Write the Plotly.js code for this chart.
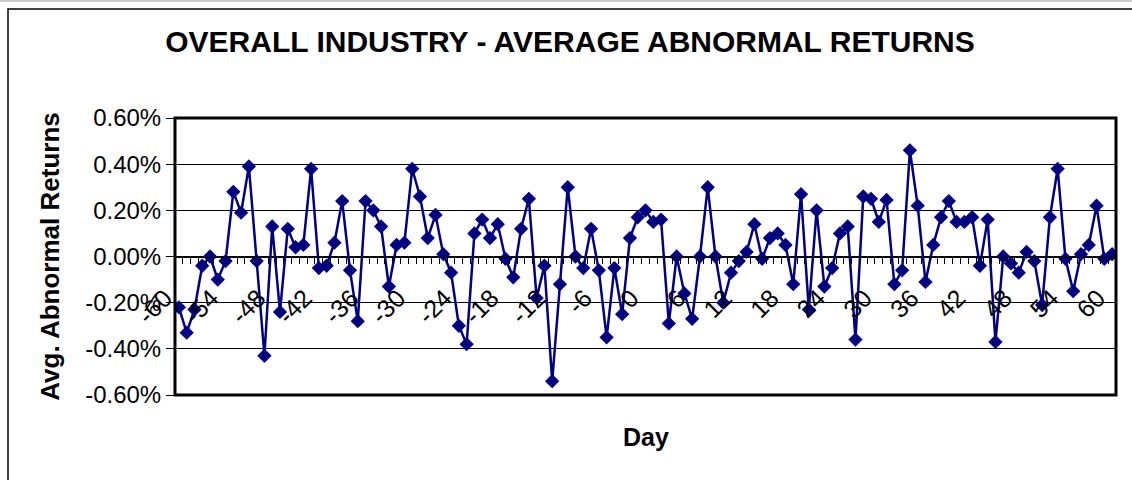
<!DOCTYPE html>
<html><head><meta charset="utf-8">
<script src="https://cdn.plot.ly/plotly-3.0.1.min.js"></script>
<style>html,body{margin:0;padding:0;background:#fff;}#chart{width:1132px;height:480px;}</style>
</head><body><div id="chart"></div>
<script>
const days = [-60,-59,-58,-57,-56,-55,-54,-53,-52,-51,-50,-49,-48,-47,-46,-45,-44,-43,-42,-41,
-40,-39,-38,-37,-36,-35,-34,-33,-32,-31,-30,-29,-28,-27,-26,-25,-24,-23,-22,-21,
-20,-19,-18,-17,-16,-15,-14,-13,-12,-11,-10,-9,-8,-7,-6,-5,-4,-3,-2,-1,
0,1,2,3,4,5,6,7,8,9,10,11,12,13,14,15,16,17,18,19,
20,21,22,23,24,25,26,27,28,29,30,31,32,33,34,35,36,37,38,39,
40,41,42,43,44,45,46,47,48,49,50,51,52,53,54,55,56,57,58,59,60];
// average abnormal returns, in percent
const avgAbnormalReturns = [-0.22,-0.33,-0.23,-0.04,0.00,-0.10,-0.02,0.28,0.19,0.39,
-0.02,-0.43,0.13,-0.24,0.12,0.04,0.05,0.38,-0.05,-0.04,
0.06,0.24,-0.06,-0.28,0.24,0.20,0.13,-0.13,0.05,0.06,
0.38,0.26,0.08,0.18,0.01,-0.07,-0.30,-0.38,0.10,0.16,
0.08,0.14,-0.01,-0.09,0.12,0.25,-0.18,-0.04,-0.54,-0.12,
0.30,0.00,-0.05,0.12,-0.06,-0.35,-0.05,-0.25,0.08,0.17,
0.20,0.15,0.16,-0.29,0.00,-0.16,-0.27,0.00,0.30,0.00,
-0.20,-0.07,-0.02,0.02,0.14,-0.01,0.08,0.10,0.05,-0.12,
0.27,-0.23,0.20,-0.13,-0.05,0.10,0.13,-0.36,0.26,0.25,
0.15,0.245,-0.12,-0.06,0.46,0.22,-0.11,0.05,0.17,0.24,
0.15,0.15,0.17,-0.04,0.16,-0.37,0.00,-0.03,-0.07,0.02,
-0.02,-0.21,0.17,0.38,-0.01,-0.15,0.01,0.05,0.22,-0.01,0.01];
const xTickVals = [-60,-54,-48,-42,-36,-30,-24,-18,-12,-6,0,6,12,18,24,30,36,42,48,54,60];
const xTickText = ['-60','-54','-48','-42','-36','-30','-24','-18','-12','-6','0','6','12','18','24','30','36','42','48','54','60'];
const yTickVals = [-0.6,-0.4,-0.2,0,0.2,0.4,0.6];
const yTickText = ['-0.60%','-0.40%','-0.20%','0.00%','0.20%','0.40%','0.60%'];

const W=1132,H=480, L=175, R=16, T=118, B=85;
const pw=W-L-R, ph=H-T-B;
const px=(x)=> (x-L)/pw, py=(y)=> (H-B-y)/ph;

const trace = {
  x: days, y: avgAbnormalReturns, type:'scatter', mode:'lines+markers',
  line:{color:'#000080', width:2.5},
  marker:{symbol:'diamond', size:11, color:'#000080'},
  hoverinfo:'skip'
};
const layout = {
  width:W, height:H,
  margin:{l:L, r:R, t:T, b:B, pad:0},
  paper_bgcolor:'#fff', plot_bgcolor:'#fff',
  showlegend:false,
  font:{family:'"Liberation Sans", Arial, sans-serif', color:'#000'},
  title:{text:'<b>OVERALL INDUSTRY - AVERAGE ABNORMAL RETURNS</b>', font:{size:30, color:'#000'},
         x:570/W, xanchor:'center', y:1-41/H, yanchor:'middle'},
  xaxis:{range:[-60.5,60.5], anchor:'free', position:0.5, tickmode:'array', tickvals:xTickVals, ticktext:xTickText,
         tickangle:-45, ticks:'', showgrid:false, zeroline:false, showline:true, linecolor:'#000', linewidth:1,
         tickfont:{size:25, color:'#000'}, ticklabelstandoff:16, ticklabelshift:-14,
         minor:{tickmode:'linear', tick0:0.5, dtick:1, ticks:'outside', ticklen:6, tickcolor:'#000', tickwidth:1, showgrid:false}},
  yaxis:{range:[-0.6,0.6], tickmode:'array', tickvals:yTickVals, ticktext:yTickText, showgrid:true, gridcolor:'#000', gridwidth:1,
         zeroline:false, ticks:'outside', ticklen:8, tickcolor:'#000', showline:false, tickfont:{size:24, color:'#000'},
         title:{text:'<b>Avg. Abnormal Returns</b>', font:{size:26, color:'#000'}, standoff:18}},
  annotations:[{text:'<b>Day</b>', xref:'paper', yref:'paper', x:0.5, y:py(437), xanchor:'center', yanchor:'middle', showarrow:false, font:{size:25, color:'#000'}}],
  shapes:[
    {type:'rect', xref:'paper', yref:'paper', x0:0, x1:1, y0:0, y1:1, line:{color:'#000', width:3}},
    {type:'rect', xref:'paper', yref:'paper', x0:px(8), x1:px(1145), y0:py(495), y1:py(9), line:{color:'#000', width:1.5}},
    {type:'line', xref:'paper', yref:'paper', x0:px(0), x1:px(1132), y0:py(1), y1:py(1), line:{color:'#999', width:1}}
  ]
};
Plotly.newPlot('chart',[trace],layout,{staticPlot:true, displayModeBar:false});
</script></body></html>
